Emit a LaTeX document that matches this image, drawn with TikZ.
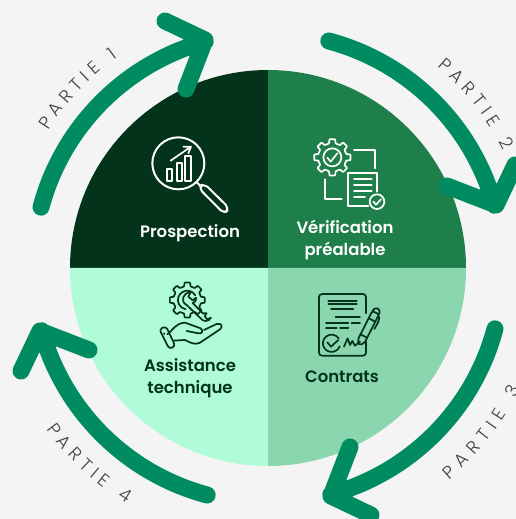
\documentclass[tikz,border=0pt]{standalone}
\usepackage{fontspec}
\usetikzlibrary{decorations.text}
\setmainfont{Poppins}[BoldFont={Poppins SemiBold}]
\newfontfamily\partiefont{Poppins Light}
\definecolor{bgcol}{HTML}{F4F4F4}
\definecolor{prospcol}{HTML}{03331B}
\definecolor{verifcol}{HTML}{1E7F4B}
\definecolor{contratcol}{HTML}{8AD6AE}
\definecolor{assistcol}{HTML}{B0FBD8}
\definecolor{arrowcol}{HTML}{008C60}
\definecolor{partiecol}{HTML}{444444}
\tikzset{
  arrowline/.style={draw=arrowcol,line width=17pt,line cap=round,line join=round},
  partlabel/.style={decorate,decoration={text along path,text align=fit to path,text color=partiecol,text={|\partiefont\fontsize{18}{18}\selectfont|#1}}},
  steplabel/.style={font=\fontsize{16.5}{22}\selectfont\bfseries,align=center,inner sep=0pt},
  iconat/.style 2 args={shift={(#1-268,268-#2)},x=0.3333pt,y=-0.3333pt},
  iconline/.style={line width=1.7pt,line cap=round,line join=round},
}
\newcommand{\gearshape}[4]{
  \draw[shift={(#1,#2)},rounded corners=0.6pt] (-13:#4) \foreach \a in {0,45,...,315} { -- (\a-13:#4) -- (\a-9:#3) -- (\a+9:#3) -- (\a+13:#4) } -- cycle;
}
\begin{document}
\begin{tikzpicture}[x=1pt,y=1pt]
  \useasboundingbox (-268,-251) rectangle (248,268);
  \fill[bgcol] (-268,-251) rectangle (248,268);
  \fill[prospcol] (0,0) -- (90:198) arc (90:180:198) -- cycle;
  \fill[verifcol] (0,0) -- (0:198) arc (0:90:198) -- cycle;
  \fill[contratcol] (0,0) -- (270:198) arc (270:360:198) -- cycle;
  \fill[assistcol] (0,0) -- (180:198) arc (180:270:198) -- cycle;
  \foreach \r in {0,-90,-180,-270}
    \draw[arrowline,rotate=\r] (165:235) arc (165:105.5:235) (-103,247) -- (-63,228) -- (-82,179);
  \path[partlabel={PARTIE 1}] (148:259) arc (148:125.5:259);
  \path[partlabel={PARTIE 2}] (50:263) arc (50:26.5:263);
  \path[partlabel={PARTIE 3}] (-49.5:279) arc (-49.5:-26:283);
  \path[partlabel={PARTIE 4}] (216:274) arc (216:238.5:280);
  \node[steplabel,text=white] (prospection) at (-78,34.5) {Prospection};
  \node[steplabel,text=white] (verification) at (77,28.5) {Vérification\\préalable};
  \node[steplabel,text=prospcol] (assistance) at (-78,-110.5) {Assistance\\technique};
  \node[steplabel,text=prospcol] (contrats) at (74,-109) {Contrats};
  \begin{scope}[iconat={130}{120},iconline,draw=white]
    \draw[line width=2pt] (145,130) circle (78);
    \draw[line width=2pt] (200,187) -- (212,198);
    \draw[line width=2pt,rounded corners=5pt] (205,203) -- (222,190) -- (298,265) -- (283,282) -- cycle;
    \draw (110,148) rectangle (127,182) (140,128) rectangle (157,182) (165,108) rectangle (182,182);
    \draw (122,122) -- (183,80) (160,80) -- (183,80) -- (175,100);
  \end{scope}
  \begin{scope}[iconat={280}{120},iconline,draw=white]
    \gearshape{157}{112}{55}{43}
    \draw (157,112) circle (27);
    \draw (142,113) -- (152,125) -- (172,100);
    \draw (222,90) -- (285,90) -- (285,145) (135,178) -- (135,238) -- (185,238);
    \draw (265,258) -- (205,258) -- (205,158) -- (290,158) -- (290,215);
    \draw (222,178) -- (275,178) (222,195) -- (275,195) (222,212) -- (275,212) (222,232) -- (255,232);
    \draw (291,245) circle (22);
    \draw (280,245) -- (288,254) -- (303,238);
  \end{scope}
  \begin{scope}[iconat={130}{275},iconline,draw=prospcol]
    \gearshape{172}{75}{53}{42}
    \draw (196,61) arc (-30:-260:28);
    \draw (182,52) .. controls (158,52) and (150,80) .. (170,90) -- (212,130) .. controls (218,140) and (236,142) .. (243,128) -- (232,133) -- (224,124) -- (230,115) .. controls (225,113) and (222,115) .. (220,116) -- (188,84) .. controls (198,80) and (200,72) .. (198,68) -- (188,76) -- (175,65) -- cycle;
    \draw[rounded corners=3pt] (88,163) -- (108,154) -- (136,213) -- (118,222) -- cycle;
    \draw (102,175) -- (103,177);
    \draw (112,178) .. controls (130,165) and (135,145) .. (165,143) -- (212,160) .. controls (222,168) and (215,178) .. (205,175) -- (170,168);
    \draw (222,165) -- (260,147) .. controls (275,143) and (280,155) .. (270,163) -- (210,203) .. controls (195,210) and (185,205) .. (165,195) -- (130,197);
  \end{scope}
  \begin{scope}[iconat={295}{285},iconline,draw=prospcol]
    \draw[rounded corners=3pt] (213,85) -- (213,27) -- (72,27) -- (72,212) -- (213,212) -- (213,170);
    \draw (100,47) -- (185,47) (100,57) -- (185,57) (108,72) -- (175,72) (122,95) -- (195,95);
    \draw (93,113) -- (160,113) (170,113) -- (195,113) (93,128) -- (125,128) (135,128) -- (160,128);
    \draw (131,160) arc (-35:-340:26);
    \draw (97,172) -- (108,185) -- (130,165);
    \draw (147,185) -- (158,160) -- (165,180) -- (172,168) -- (180,182) -- (195,170);
    \draw[rounded corners=2pt] (188,165) -- (232,78) -- (252,88) -- (208,175) -- (192,180) -- cycle;
    \draw (232,78) .. controls (240,62) and (260,70) .. (252,88);
    \draw (196,148) -- (216,158) (222,100) -- (240,110) (252,95) .. controls (255,105) and (245,120) .. (238,132);
  \end{scope}
\end{tikzpicture}
\end{document}
